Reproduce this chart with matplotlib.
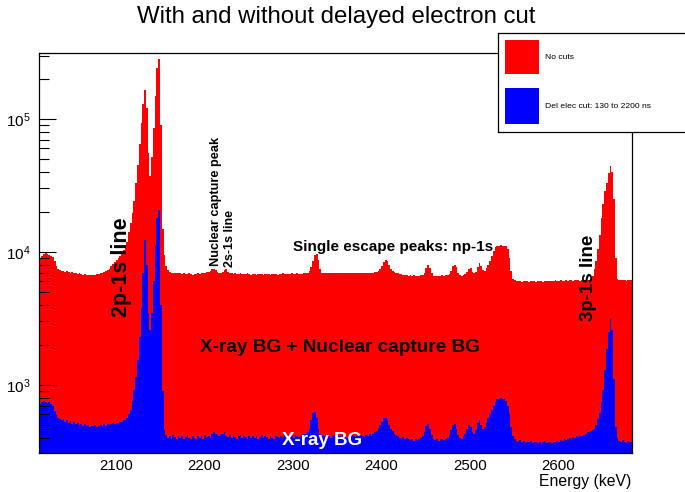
import numpy as np
import matplotlib
matplotlib.use('Agg')
import matplotlib.pyplot as plt
from matplotlib.patches import Rectangle
from matplotlib.ticker import LogLocator, NullLocator

plt.rcParams['font.family'] = ['Liberation Sans', 'DejaVu Sans']
plt.rcParams['mathtext.fontset'] = 'custom'
plt.rcParams['mathtext.rm'] = 'Liberation Sans'
plt.rcParams['mathtext.it'] = 'Liberation Sans:italic'
plt.rcParams['mathtext.bf'] = 'Liberation Sans:bold'

# histogram binning (keV)
e_lo, e_hi, bin_w = 2014, 2684, 2

# counts per 2 keV bin, no cut applied
no_cuts = [
    9000, 9300, 9600, 9800, 9700, 9500, 9400, 9200, 8600, 7900,   # 2014
    7400, 7300, 7200, 7250, 7100, 7150, 7050, 7000, 7050, 6950,   # 2034
    6900, 6850, 6900, 6800, 6750, 6800, 6700, 6750, 6650, 6700,   # 2054
    6700, 6750, 6800, 6850, 6900, 7000, 7050, 7200, 7300, 7450,   # 2074
    7800, 8100, 8400, 8700, 9000, 9400, 9800, 10300, 11000, 11800,  # 2094
    14000, 16500, 19500, 24000, 33000, 45000, 65000, 93000, 130000, 165000,  # 2114
    120000, 55000, 37000, 52000, 85000, 150000, 240000, 283000, 90000, 15000,  # 2134
    9500, 7900, 7300, 7100, 7000, 6950, 7000, 6900, 6950, 6900,   # 2154
    6850, 6900, 6800, 6850, 6900, 6800, 6750, 6850, 6800, 6900,   # 2174
    6850, 6900, 6950, 7000, 7050, 7100, 7250, 7400, 7450, 7300,   # 2194
    7100, 7000, 6950, 7050, 7300, 7450, 7100, 6950, 6900, 6850,   # 2214
    6900, 6850, 6800, 6900, 6850, 6800, 6850, 6900, 6800, 6750,   # 2234
    6800, 6850, 6750, 6800, 6850, 6800, 6750, 6800, 6850, 6800,   # 2254
    6750, 6800, 6850, 6800, 6750, 6800, 6850, 6900, 6800, 6850,   # 2274
    6800, 6850, 6900, 6850, 6800, 6900, 6850, 6800, 6850, 6900,   # 2294
    6900, 7000, 7200, 7700, 8600, 9500, 9600, 8700, 7500, 7000,   # 2314
    6900, 6950, 6900, 6950, 7000, 6950, 6900, 7000, 6950, 7000,   # 2334
    6950, 7000, 6900, 6950, 7000, 6950, 6900, 6950, 6900, 6950,   # 2354
    6900, 6950, 7000, 6950, 6900, 6950, 7000, 6950, 7000, 7050,   # 2374
    7100, 7200, 7500, 7900, 8400, 8700, 8600, 8000, 7500, 7200,   # 2394
    7100, 7000, 6900, 6850, 6800, 6700, 6750, 6650, 6600, 6650,   # 2414
    6600, 6650, 6600, 6550, 6600, 6650, 6700, 7000, 7600, 8000,   # 2434
    7600, 6900, 6600, 6550, 6600, 6550, 6600, 6650, 6600, 6650,   # 2454
    6700, 6800, 7200, 7800, 8000, 7700, 6900, 6650, 6600, 6700,   # 2474
    6800, 7100, 7500, 7600, 7100, 6900, 7100, 7700, 8200, 7800,   # 2494
    7300, 7200, 7600, 8000, 8600, 9400, 10200, 10800, 11000, 11100,  # 2514
    11200, 11100, 11000, 11100, 10600, 9000, 7200, 6300, 6100, 6050,  # 2534
    6000, 6050, 5950, 6000, 6050, 6000, 5950, 6000, 6050, 6000,   # 2554
    5950, 6000, 6050, 6000, 5950, 6000, 6050, 6000, 6050, 6000,   # 2574
    6050, 6100, 6000, 6050, 6100, 6050, 6000, 6100, 6050, 6100,   # 2594
    6100, 6050, 6100, 6150, 6100, 6050, 6150, 6100, 6150, 6200,   # 2614
    6200, 6300, 6600, 7400, 8600, 10500, 13500, 18000, 23000, 28500,  # 2634
    33000, 39000, 44000, 40000, 25000, 9000, 6300, 6150, 6100, 6150,  # 2654
    6100, 6050, 6100, 6150, 6100,                                 # 2674
]

# counts per 2 keV bin, delayed electron cut 130-2200 ns
del_cut = [
    720, 750, 760, 740, 730, 750, 720, 700, 640, 590,   # 2014
    560, 550, 540, 555, 530, 545, 520, 535, 510, 525,   # 2034
    505, 515, 500, 510, 495, 505, 490, 500, 485, 495,   # 2054
    490, 500, 485, 495, 500, 490, 505, 495, 510, 500,   # 2074
    505, 515, 510, 520, 515, 525, 530, 540, 545, 560,   # 2094
    600, 650, 760, 920, 1150, 1550, 2300, 3800, 7000, 12300,  # 2114
    8000, 3500, 2600, 3500, 6000, 11000, 18000, 20700, 4000, 900,  # 2134
    460, 420, 400, 410, 395, 420, 405, 390, 415, 400,   # 2154
    410, 395, 405, 420, 400, 390, 410, 400, 395, 415,   # 2174
    400, 410, 395, 420, 405, 415, 400, 425, 440, 430,   # 2194
    420, 410, 430, 425, 440, 415, 405, 420, 400, 410,   # 2214
    405, 395, 410, 420, 400, 415, 405, 395, 410, 400,   # 2234
    415, 400, 410, 395, 405, 420, 400, 410, 405, 395,   # 2254
    410, 400, 395, 410, 405, 400, 415, 405, 420, 410,   # 2274
    405, 415, 410, 400, 420, 410, 405, 415, 420, 425,   # 2294
    430, 440, 470, 540, 620, 630, 560, 470, 430, 415,   # 2314
    410, 420, 405, 415, 400, 410, 420, 405, 415, 410,   # 2334
    405, 420, 410, 400, 415, 405, 420, 410, 405, 415,   # 2354
    410, 420, 415, 405, 420, 410, 425, 415, 430, 440,   # 2374
    450, 470, 500, 530, 560, 565, 540, 500, 470, 450,   # 2394
    430, 420, 410, 400, 395, 405, 390, 400, 395, 385,   # 2414
    390, 380, 395, 385, 390, 400, 410, 440, 490, 510,   # 2434
    470, 420, 395, 385, 390, 380, 395, 390, 385, 395,   # 2454
    400, 420, 460, 500, 510, 470, 420, 400, 395, 410,   # 2474
    430, 470, 500, 480, 440, 430, 460, 520, 540, 500,   # 2494
    470, 480, 520, 560, 600, 650, 700, 750, 780, 790,   # 2514
    800, 790, 780, 760, 700, 600, 480, 410, 390, 380,   # 2534
    375, 385, 370, 380, 365, 375, 370, 380, 365, 375,   # 2554
    370, 365, 375, 360, 370, 380, 365, 375, 370, 365,   # 2574
    375, 370, 380, 375, 385, 380, 390, 385, 395, 400,   # 2594
    395, 405, 400, 410, 405, 415, 410, 420, 430, 440,   # 2614
    440, 450, 460, 470, 500, 550, 620, 750, 920, 1300,  # 2634
    1850, 2500, 3150, 2600, 1100, 480, 400, 380, 370, 385,  # 2654
    375, 365, 380, 370, 375,                            # 2674
]

x_ticks = [2100, 2200, 2300, 2400, 2500, 2600]
legend_labels = ['No cuts', 'Del elec cut: 130 to 2200 ns']

edges = np.arange(e_lo, e_hi + bin_w, bin_w)
assert len(no_cuts) == len(edges) - 1 and len(del_cut) == len(edges) - 1

W, H = 685, 492
fig = plt.figure(figsize=(W / 100, H / 100), dpi=100)
ax = fig.add_axes([39 / W, 1 - 453.3 / H, (631.7 - 39) / W, (453.3 - 52.5) / H])

ax.stairs(no_cuts, edges, baseline=1, fill=True, color='#ff0000', lw=0)
ax.stairs(del_cut, edges, baseline=1, fill=True, color='#0000ff', lw=0)

ax.set_yscale('log')
ax.set_xlim(2013.3, 2683)
ax.set_ylim(306, 3.16e5)

ax.set_xticks(x_ticks)
ax.xaxis.set_minor_locator(NullLocator())
ax.yaxis.set_major_locator(LogLocator(base=10))
ax.yaxis.set_minor_locator(LogLocator(base=10, subs=np.arange(2, 10)))
ax.tick_params(axis='x', which='both', length=0, labelsize=10.8, pad=4)
ax.tick_params(axis='y', which='both', direction='in', left=True, right=False, width=0.8)
ax.tick_params(axis='y', which='major', length=12, labelsize=11, pad=6)
ax.tick_params(axis='y', which='minor', length=7)
for sp in ax.spines.values():
    sp.set_linewidth(0.9)

ax.set_xlabel('Energy (keV)', fontsize=11.3, ha='right', x=1.0, labelpad=1)

# peak annotations
bold = dict(fontweight='bold', color='black')
ax.text(2106.7, 7640, '2p-1s line', rotation=90, ha='center', va='center', fontsize=15.5, **bold)
ax.text(2633.7, 6340, '3p-1s line', rotation=90, ha='center', va='center', fontsize=13.5, **bold)
ax.text(2213.3, 23900, 'Nuclear capture peak', rotation=90, ha='center', va='center', fontsize=9.2, **bold)
ax.text(2228.8, 12680, '2s-1s line', rotation=90, ha='center', va='center', fontsize=9, **bold)
ax.text(2412.8, 10960, 'Single escape peaks: np-1s', ha='center', va='center', fontsize=11, **bold)
ax.text(2353.8, 1897, 'X-ray BG + Nuclear capture BG', ha='center', va='center', fontsize=13.7, **bold)
ax.text(2333.2, 380, 'X-ray BG', ha='center', va='center', fontsize=13.5,
        fontweight='bold', color='white')

fig.text(336 / W, 1 - 17.5 / H, 'With and without delayed electron cut',
         ha='center', va='center', fontsize=17.3)

# legend box in the top right corner
lax = fig.add_axes([498.3 / W, 1 - 131.7 / H, (700 - 498.3) / W, (131.7 - 33.3) / H])
lax.set_xlim(0, 1)
lax.set_ylim(0, 1)
lax.set_xticks([])
lax.set_yticks([])
for sp in lax.spines.values():
    sp.set_linewidth(0.9)
lax.add_patch(Rectangle((0.033, 0.586), 0.170, 0.346, color='#ff0000', lw=0))
lax.add_patch(Rectangle((0.033, 0.078), 0.170, 0.363, color='#0000ff', lw=0))
lax.text(0.232, 0.756, legend_labels[0], fontsize=6.1, va='center')
lax.text(0.232, 0.254, legend_labels[1], fontsize=6.1, va='center')

fig.savefig('out.png', dpi=100)
